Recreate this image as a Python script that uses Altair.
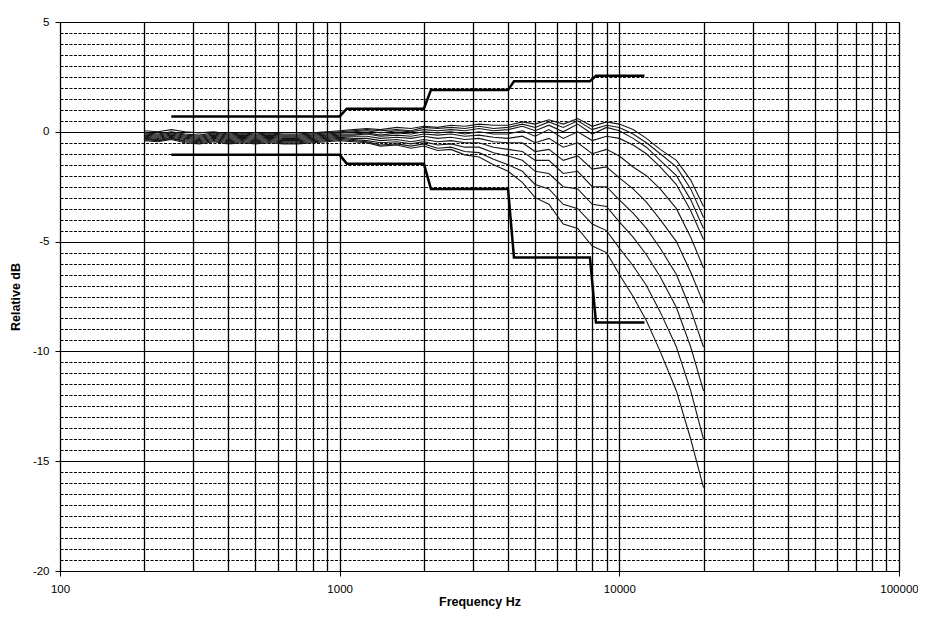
import altair as alt
import pandas as pd

# 1/6-octave measurement frequencies (Hz)
freqs = [200, 224, 250, 280, 315, 355, 400, 450, 500, 560, 630, 710, 800, 900,
         1000, 1120, 1250, 1400, 1600, 1800, 2000, 2240, 2500, 2800, 3150, 3550, 4000,
         4500, 5000, 5600, 6300, 7100, 8000, 9000, 10000, 11200, 12500, 14000, 16000, 18000, 20000]

curve_01 = [0.05, 0.0, 0.1, 0.0, -0.05, 0.0, -0.1, -0.05, -0.1, -0.05, -0.1, -0.1, -0.05, 0.0,
            0.05, 0.1, 0.15, 0.1, 0.2, 0.15, 0.25, 0.2, 0.3, 0.25, 0.35, 0.3, 0.3,
            0.45, 0.35, 0.55, 0.35, 0.6, 0.25, 0.45, 0.35, 0.1, -0.3, -0.8, -1.3, -2.2, -3.4]
curve_02 = [-0.05, -0.1, 0.0, -0.1, -0.15, -0.05, -0.15, -0.1, -0.15, -0.1, -0.15, -0.15, -0.1, -0.05,
            0.0, 0.05, 0.1, 0.05, 0.1, 0.05, 0.2, 0.15, 0.2, 0.15, 0.25, 0.15, 0.2,
            0.35, 0.2, 0.45, 0.2, 0.5, 0.1, 0.3, 0.2, -0.1, -0.5, -1.0, -1.6, -2.6, -3.9]
curve_03 = [-0.1, -0.15, -0.05, -0.15, -0.2, -0.1, -0.2, -0.15, -0.2, -0.15, -0.2, -0.2, -0.15, -0.1,
            -0.05, 0.0, 0.05, -0.05, 0.05, 0.0, 0.1, 0.05, 0.1, 0.05, 0.15, 0.05, 0.1,
            0.25, 0.05, 0.3, 0.0, 0.35, -0.1, 0.2, 0.05, -0.3, -0.7, -1.3, -2.0, -3.1, -4.4]
curve_04 = [-0.15, -0.2, -0.1, -0.2, -0.25, -0.15, -0.25, -0.2, -0.25, -0.2, -0.25, -0.25, -0.2, -0.15,
            -0.1, -0.1, -0.05, -0.15, -0.05, -0.1, 0.0, -0.05, 0.0, -0.1, 0.0, -0.1, -0.1,
            0.05, -0.2, 0.1, -0.3, 0.0, -0.4, -0.2, -0.3, -0.6, -1.0, -1.6, -2.4, -3.6, -4.9]
curve_05 = [-0.2, -0.25, -0.15, -0.25, -0.3, -0.2, -0.3, -0.25, -0.3, -0.25, -0.3, -0.3, -0.25, -0.2,
            -0.15, -0.15, -0.1, -0.2, -0.15, -0.2, -0.1, -0.15, -0.1, -0.2, -0.15, -0.25, -0.3,
            -0.2, -0.5, -0.3, -0.7, -0.5, -1.0, -0.8, -1.1, -1.6, -2.0, -2.6, -3.5, -4.8, -6.2]
curve_06 = [-0.25, -0.3, -0.2, -0.3, -0.35, -0.25, -0.35, -0.3, -0.35, -0.3, -0.35, -0.35, -0.3, -0.25,
            -0.2, -0.2, -0.2, -0.3, -0.25, -0.3, -0.2, -0.3, -0.25, -0.35, -0.3, -0.45, -0.5,
            -0.5, -0.9, -0.8, -1.3, -1.1, -1.7, -1.6, -2.1, -2.6, -3.2, -4.0, -5.0, -6.4, -7.8]
curve_07 = [-0.3, -0.35, -0.25, -0.35, -0.4, -0.3, -0.4, -0.35, -0.4, -0.35, -0.4, -0.4, -0.35, -0.3,
            -0.25, -0.3, -0.3, -0.4, -0.35, -0.45, -0.35, -0.45, -0.4, -0.5, -0.5, -0.7, -0.8,
            -0.9, -1.3, -1.3, -1.9, -1.8, -2.5, -2.5, -3.1, -3.7, -4.4, -5.3, -6.5, -8.1, -9.8]
curve_08 = [-0.3, -0.4, -0.3, -0.4, -0.45, -0.35, -0.45, -0.4, -0.45, -0.4, -0.45, -0.45, -0.4, -0.35,
            -0.3, -0.35, -0.4, -0.5, -0.45, -0.55, -0.45, -0.6, -0.55, -0.7, -0.7, -0.95, -1.1,
            -1.3, -1.8, -1.9, -2.5, -2.6, -3.3, -3.4, -4.1, -4.8, -5.6, -6.6, -8.0, -9.8, -11.8]
curve_09 = [-0.35, -0.4, -0.3, -0.45, -0.5, -0.4, -0.5, -0.45, -0.5, -0.45, -0.5, -0.5, -0.45, -0.4,
            -0.35, -0.4, -0.45, -0.6, -0.55, -0.65, -0.55, -0.75, -0.7, -0.9, -0.95, -1.25, -1.5,
            -1.8, -2.4, -2.6, -3.3, -3.5, -4.2, -4.5, -5.3, -6.1, -7.0, -8.2, -9.8, -11.8, -14.0]
curve_10 = [-0.4, -0.45, -0.35, -0.5, -0.55, -0.45, -0.55, -0.5, -0.55, -0.5, -0.55, -0.55, -0.5, -0.45,
            -0.4, -0.45, -0.5, -0.65, -0.6, -0.75, -0.65, -0.85, -0.8, -1.05, -1.15, -1.5, -1.8,
            -2.3, -3.0, -3.3, -4.2, -4.4, -5.2, -5.5, -6.5, -7.5, -8.6, -10.0, -11.8, -14.0, -16.2]

curves = [curve_01, curve_02, curve_03, curve_04, curve_05,
          curve_06, curve_07, curve_08, curve_09, curve_10]

# Tolerance (limit) lines
limit_freqs = [250, 1000, 1060, 2000, 2120, 4000, 4200, 7850, 8250, 12300]
upper_limit = [0.7, 0.7, 1.05, 1.05, 1.9, 1.9, 2.3, 2.3, 2.55, 2.55]
lower_limit = [-1.05, -1.05, -1.45, -1.45, -2.6, -2.6, -5.72, -5.72, -8.68, -8.68]

rows = []
for i, vals in enumerate(curves):
    for f, v in zip(freqs, vals):
        rows.append({"curve": f"c{i+1:02d}", "freq": f, "db": v})
df = pd.DataFrame(rows)

lim_rows = []
for name, vals in (("upper", upper_limit), ("lower", lower_limit)):
    for f, v in zip(limit_freqs, vals):
        lim_rows.append({"limit": name, "freq": f, "db": v})
df_lim = pd.DataFrame(lim_rows)

# axis tick / grid positions
x_tick_values = [m * 10 ** e for e in (2, 3, 4) for m in range(1, 10)] + [100000]
y_tick_values = [-20 + 0.5 * i for i in range(51)]

major_x = "datum.value == 100 || datum.value == 1000 || datum.value == 10000 || datum.value == 100000"

x_scale = alt.Scale(type="log", domain=[100, 100000], nice=False)
y_scale = alt.Scale(domain=[-20, 5], nice=False, zero=False)

x_axis = alt.Axis(
    values=x_tick_values,
    format="d",
    labelExpr="(" + major_x + ") ? datum.label : ''",
    grid=True, gridColor="black", gridWidth=1.3, gridOpacity=1,
    tickOpacity={"condition": {"test": major_x, "value": 1}, "value": 0},
    tickSize=5, tickColor="black",
    domainColor="black",
    labelPadding=7, labelFlush=False, labelOverlap=False,
    title="Frequency Hz", titlePadding=1,
)

y_axis = alt.Axis(
    values=y_tick_values,
    labelExpr="(datum.value % 5 === 0) ? ('' + datum.value) : ''",
    grid=True, gridColor="black", gridWidth=1.2, gridOpacity=1,
    gridDash={"condition": {"test": "datum.value % 5 === 0", "value": [1, 0]}, "value": [3, 1.5]},
    tickOpacity={"condition": {"test": "datum.value % 5 === 0", "value": 1}, "value": 0},
    tickSize=5, tickColor="black",
    domainColor="black",
    labelPadding=6, labelOverlap=False,
    title="Relative dB", titlePadding=10,
)

curves_layer = alt.Chart(df).mark_line(color="#161616", strokeWidth=1.1).encode(
    x=alt.X("freq:Q", scale=x_scale, axis=x_axis),
    y=alt.Y("db:Q", scale=y_scale, axis=y_axis),
    detail="curve:N",
)

limits_layer = alt.Chart(df_lim).mark_line(color="black", strokeWidth=2.5).encode(
    x=alt.X("freq:Q", scale=x_scale, axis=x_axis),
    y=alt.Y("db:Q", scale=y_scale, axis=y_axis),
    detail="limit:N",
)

chart = alt.layer(curves_layer, limits_layer).properties(
    width=839,
    height=549,
    autosize=alt.AutoSizeParams(type="none"),
    padding={"left": 52, "top": 14, "right": 19, "bottom": 38},
).configure_view(
    stroke="black", strokeWidth=1
).configure_axis(
    labelFont="Liberation Sans", labelFontSize=11.5, labelColor="black",
    titleFont="Liberation Sans", titleFontSize=12.5, titleFontWeight="bold", titleColor="black",
)

chart.save("out.html", embed_options={"renderer": "svg", "actions": False})
